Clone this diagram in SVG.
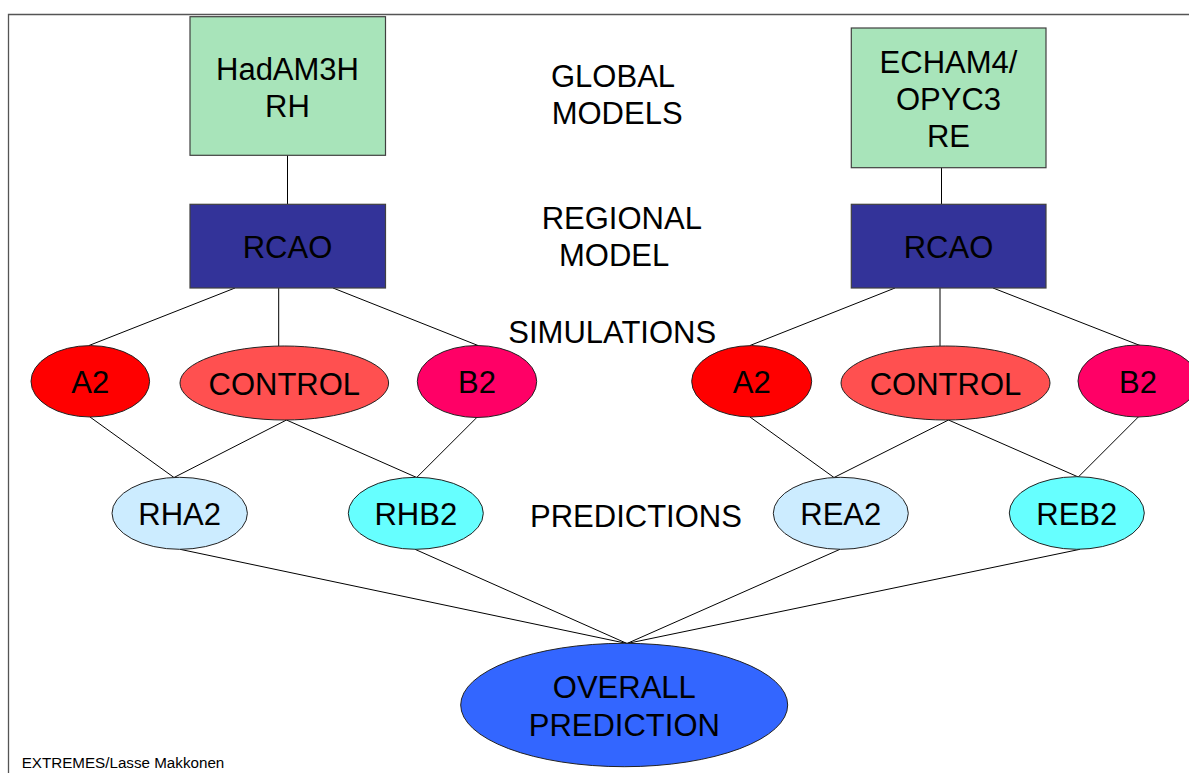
<svg xmlns="http://www.w3.org/2000/svg" width="1189" height="773" viewBox="0 0 1189 773">
<style>
  text { font-family: "Liberation Sans", Arial, sans-serif; fill: #000; }
  .t { font-size: 31px; text-anchor: middle; }
  .lbl { font-size: 31px; }
  .box { stroke: #404040; stroke-width: 1.2; }
  .ell { stroke: #222; stroke-width: 1; }
  .con line { stroke: #000; stroke-width: 1; }
  .frame { stroke: #555; stroke-width: 1.3; fill: none; }
</style>
<rect width="1189" height="773" fill="#fff"/>
<path class="frame" d="M8.5,773 V14.5 H1189"/>

<g id="connectors" class="con">
  <line x1="287.5" y1="155" x2="287.5" y2="204"/>
  <line x1="941.5" y1="167" x2="941.5" y2="204"/>
  <line x1="235" y1="288" x2="89" y2="345.5"/>
  <line x1="278.7" y1="288" x2="278.7" y2="346"/>
  <line x1="333" y1="288" x2="478" y2="345.5"/>
  <line x1="895" y1="288" x2="750" y2="345.5"/>
  <line x1="940" y1="288" x2="940" y2="346"/>
  <line x1="993" y1="288" x2="1140" y2="345.5"/>
  <line x1="90" y1="417" x2="174" y2="477.5"/>
  <line x1="286.5" y1="420" x2="174" y2="477.5"/>
  <line x1="286.5" y1="420" x2="416.7" y2="477.5"/>
  <line x1="477.3" y1="417" x2="416.7" y2="477.5"/>
  <line x1="750" y1="417" x2="834" y2="477.5"/>
  <line x1="948.5" y1="420" x2="834" y2="477.5"/>
  <line x1="948.5" y1="420" x2="1078.3" y2="477"/>
  <line x1="1138.3" y1="417" x2="1078.3" y2="477"/>
  <line x1="180" y1="549.3" x2="627" y2="643.5"/>
  <line x1="415" y1="549.3" x2="627" y2="643.5"/>
  <line x1="840" y1="549.3" x2="627" y2="643.5"/>
  <line x1="1080" y1="549.3" x2="627" y2="643.5"/>
</g>

<g id="global-left">
  <rect class="box" x="190" y="16.7" width="195.5" height="138.6" fill="#A8E4BA"/>
  <text class="t" x="287.5" y="80">HadAM3H</text>
  <text class="t" x="287.5" y="116.7">RH</text>
</g>
<g id="global-right">
  <rect class="box" x="851.3" y="28" width="194.7" height="139.7" fill="#A8E4BA"/>
  <text class="t" x="948.5" y="72.7">ECHAM4/</text>
  <text class="t" x="948.5" y="110">OPYC3</text>
  <text class="t" x="948.5" y="146.7">RE</text>
</g>
<g id="rcao-left">
  <rect class="box" x="190" y="204.3" width="195.5" height="83.7" fill="#333399"/>
  <text class="t" x="287.5" y="258.3">RCAO</text>
</g>
<g id="rcao-right">
  <rect class="box" x="851.3" y="204.3" width="194.7" height="83.7" fill="#333399"/>
  <text class="t" x="948.5" y="258.3">RCAO</text>
</g>

<g id="label-global">
  <text class="lbl" x="551" y="86.7">GLOBAL</text>
  <text class="lbl" x="551.7" y="124">MODELS</text>
</g>
<g id="label-regional">
  <text class="lbl" x="541.7" y="229.3">REGIONAL</text>
  <text class="lbl" x="559" y="265.7">MODEL</text>
</g>
<g id="label-simulations">
  <text class="lbl" x="508.3" y="343.3">SIMULATIONS</text>
</g>
<g id="label-predictions">
  <text class="lbl" x="530" y="526.7">PREDICTIONS</text>
</g>

<g id="a2-left">
  <ellipse class="ell" cx="90.3" cy="381.3" rx="59.3" ry="35.7" fill="#FF0000"/>
  <text class="t" x="90.3" y="392.7">A2</text>
</g>
<g id="control-left">
  <ellipse class="ell" cx="284.3" cy="383" rx="104.3" ry="37" fill="#FF5050"/>
  <text class="t" x="284.3" y="395">CONTROL</text>
</g>
<g id="b2-left">
  <ellipse class="ell" cx="477" cy="381.5" rx="59.7" ry="36" fill="#FF0066"/>
  <text class="t" x="477" y="392.7">B2</text>
</g>
<g id="a2-right">
  <ellipse class="ell" cx="751.7" cy="381.3" rx="60" ry="35.7" fill="#FF0000"/>
  <text class="t" x="751.7" y="392.7">A2</text>
</g>
<g id="control-right">
  <ellipse class="ell" cx="945.5" cy="383" rx="104.5" ry="37" fill="#FF5050"/>
  <text class="t" x="945.5" y="395">CONTROL</text>
</g>
<g id="b2-right">
  <ellipse class="ell" cx="1138" cy="381" rx="60" ry="36" fill="#FF0066"/>
  <text class="t" x="1138" y="392.7">B2</text>
</g>

<g id="rha2">
  <ellipse class="ell" cx="179.7" cy="513.3" rx="67.7" ry="36" fill="#CCECFF"/>
  <text class="t" x="179.7" y="525">RHA2</text>
</g>
<g id="rhb2">
  <ellipse class="ell" cx="415.8" cy="513.3" rx="67.5" ry="36" fill="#66FFFF"/>
  <text class="t" x="415.8" y="525">RHB2</text>
</g>
<g id="rea2">
  <ellipse class="ell" cx="840.8" cy="513.3" rx="67.5" ry="36" fill="#CCECFF"/>
  <text class="t" x="840.8" y="525">REA2</text>
</g>
<g id="reb2">
  <ellipse class="ell" cx="1076.8" cy="513" rx="67.5" ry="36.3" fill="#66FFFF"/>
  <text class="t" x="1076.8" y="525">REB2</text>
</g>

<g id="overall">
  <ellipse class="ell" cx="624.2" cy="705" rx="163.5" ry="61.7" fill="#3366FF"/>
  <text class="t" x="624.3" y="698.3">OVERALL</text>
  <text class="t" x="624.3" y="736">PREDICTION</text>
</g>

<text x="21.7" y="768.3" font-size="15.2">EXTREMES/Lasse Makkonen</text>
</svg>
